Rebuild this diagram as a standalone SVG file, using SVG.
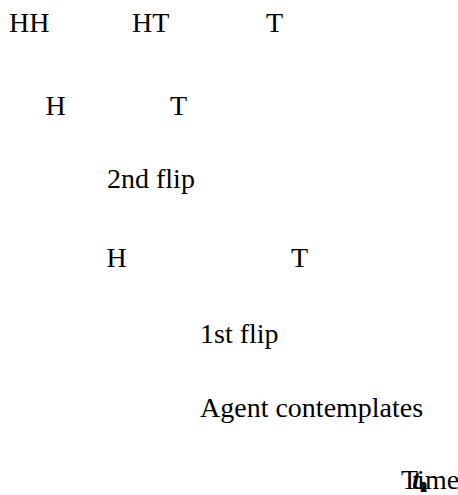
<svg xmlns="http://www.w3.org/2000/svg" width="458" height="495" viewBox="0 0 458 495">
<style>
text{font-family:"Liberation Serif","DejaVu Serif",serif;font-size:28px;fill:#000}
.bt{font-weight:bold;font-style:italic}
.sub{font-size:14px;font-weight:bold}
</style>
<rect width="458" height="495" fill="#fff"/>
<g id="connectors"/>
<g id="n-HH"><text x="9" y="31.5">HH</text></g>
<g id="n-HT"><text x="132" y="31.5">HT</text></g>
<g id="n-T2"><text x="266" y="31.5">T</text></g>
<g id="n-H1"><text x="45.5" y="115">H</text></g>
<g id="n-T1"><text x="170" y="115">T</text></g>
<g id="n-flip2"><text x="107" y="188">2nd flip</text></g>
<g id="n-H0"><text x="106.5" y="267">H</text></g>
<g id="n-T0"><text x="291" y="267">T</text></g>
<g id="n-flip1"><text x="200" y="343">1st flip</text></g>
<g id="n-agent"><text x="200" y="417">Agent contemplates</text></g>
<g id="n-time">
<text x="401" y="489">Time</text>
<text class="bt" x="412" y="489">t</text>
<text class="sub" x="420" y="492">0</text>
<text class="sub" x="420" y="492">1</text>
<text class="sub" x="420" y="492">2</text>
</g>
</svg>
